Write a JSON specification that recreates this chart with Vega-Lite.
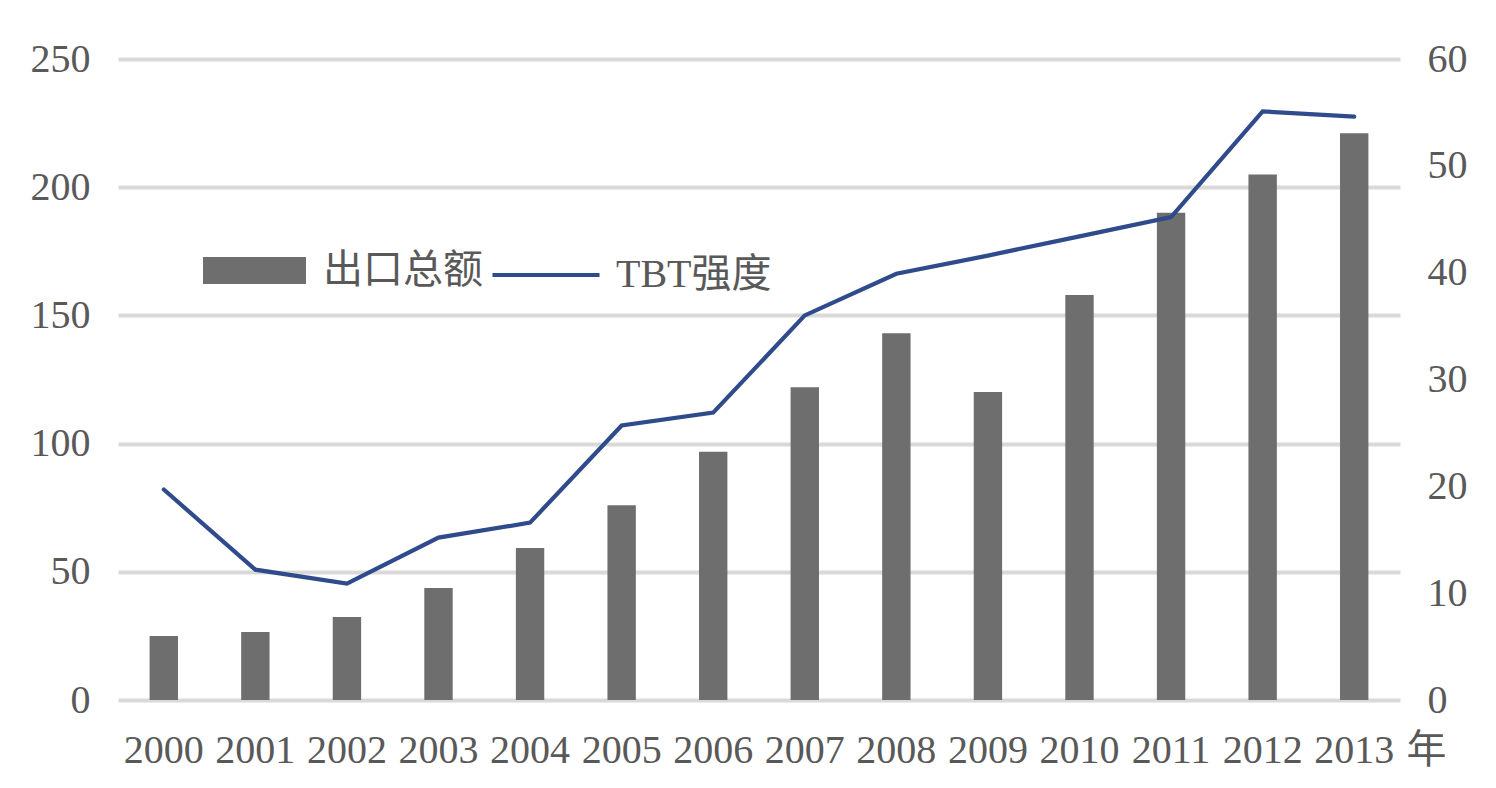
{
  "$schema": "https://vega.github.io/schema/vega-lite/v6.json",
  "width": 1282,
  "height": 641,
  "autosize": {"type": "none"},
  "padding": {"left": 118, "top": 59, "right": 96, "bottom": 88},
  "background": "white",
  "config": {
    "view": {"stroke": null},
    "font": "Liberation Serif, Noto Sans CJK SC",
    "axis": {
      "labelFont": "Liberation Serif, Noto Sans CJK SC",
      "labelFontSize": 40,
      "labelColor": "#595959",
      "titleFont": "Liberation Serif, Noto Sans CJK SC",
      "domain": false,
      "ticks": false
    },
    "legend": {
      "labelFont": "Liberation Serif, Noto Sans CJK SC",
      "labelFontSize": 40,
      "labelColor": "#595959",
      "padding": 0,
      "orient": "none"
    }
  },
  "data": {
    "values": [
      {"year": "2000", "export": 25, "tbt": 19.7},
      {"year": "2001", "export": 26.5, "tbt": 12.2},
      {"year": "2002", "export": 32.4, "tbt": 10.9},
      {"year": "2003", "export": 43.7, "tbt": 15.2},
      {"year": "2004", "export": 59.3, "tbt": 16.6},
      {"year": "2005", "export": 76, "tbt": 25.7},
      {"year": "2006", "export": 96.8, "tbt": 26.9},
      {"year": "2007", "export": 122, "tbt": 36},
      {"year": "2008", "export": 143, "tbt": 39.9},
      {"year": "2009", "export": 120.1, "tbt": 41.6},
      {"year": "2010", "export": 158, "tbt": 43.4},
      {"year": "2011", "export": 190, "tbt": 45.2},
      {"year": "2012", "export": 205, "tbt": 55.1},
      {"year": "2013", "export": 221, "tbt": 54.6}
    ]
  },
  "encoding": {
    "x": {
      "field": "year",
      "type": "ordinal",
      "scale": {"paddingInner": 0.69, "paddingOuter": 0.345},
      "axis": {
        "labelAngle": 0,
        "labelPadding": 30,
        "labelBaseline": "top",
        "title": "年",
        "titleFontSize": 40,
        "titleFontWeight": "normal",
        "titleColor": "#595959",
        "titleAngle": 0,
        "titleAlign": "center",
        "titleBaseline": "middle",
        "titleX": 1308,
        "titleY": 50
      }
    }
  },
  "layer": [
    {
      "mark": {"type": "bar"},
      "encoding": {
        "y": {
          "field": "export",
          "type": "quantitative",
          "scale": {"domain": [0, 250]},
          "axis": {
            "title": null,
            "values": [0, 50, 100, 150, 200, 250],
            "labelPadding": 28,
            "grid": true,
            "gridColor": "#d9d9d9",
            "gridWidth": 4
          }
        },
        "color": {
          "datum": "出口总额",
          "scale": {"range": ["#6e6e6e"]},
          "legend": {
            "title": null,
            "symbolType": "M-1,-0.26H1V0.26H-1Z",
            "symbolSize": 10609,
            "symbolStrokeWidth": 0,
            "labelOffset": 17,
            "legendX": 85,
            "legendY": 160
          }
        }
      }
    },
    {
      "mark": {"type": "line", "strokeWidth": 4.2, "strokeCap": "round"},
      "encoding": {
        "y": {
          "field": "tbt",
          "type": "quantitative",
          "scale": {"domain": [0, 60]},
          "axis": {
            "title": null,
            "orient": "right",
            "values": [0, 10, 20, 30, 40, 50, 60],
            "labelPadding": 27,
            "grid": false
          }
        },
        "stroke": {
          "datum": "TBT强度",
          "scale": {"range": ["#2f4b8c"]},
          "legend": {
            "title": null,
            "symbolType": "stroke",
            "symbolSize": 11449,
            "symbolStrokeWidth": 4.2,
            "labelOffset": 14,
            "legendX": 372,
            "legendY": 160
          }
        }
      }
    }
  ],
  "resolve": {"scale": {"y": "independent", "color": "independent", "stroke": "independent"}}
}
